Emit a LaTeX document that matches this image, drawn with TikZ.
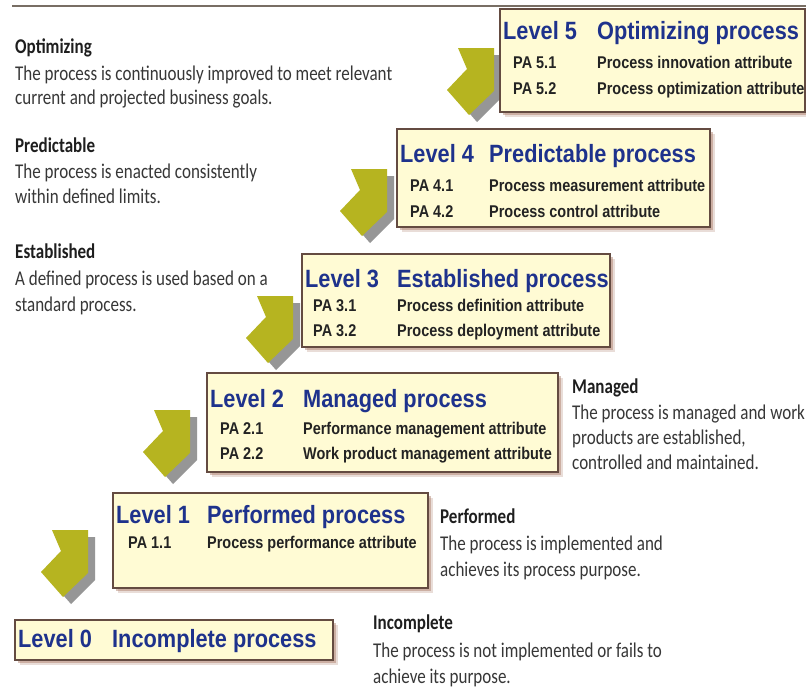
\documentclass[tikz,border=0pt]{standalone}
\usepackage{fontspec}
\setmainfont{Liberation Sans}
\newfontfamily\tfont[FakeStretch=0.87]{Liberation Sans}
\newfontfamily\pfont[FakeStretch=0.85]{Liberation Sans}
\newfontfamily\dfont[FakeStretch=0.81]{Carlito}
\definecolor{arrowyellow}{RGB}{182,180,32}
\definecolor{arrowshadow}{RGB}{150,150,150}
\definecolor{boxfill}{RGB}{255,251,212}
\definecolor{boxborder}{RGB}{100,75,65}
\definecolor{boxshadow}{RGB}{170,120,100}
\definecolor{titleblue}{RGB}{30,50,140}
\definecolor{patext}{RGB}{35,35,35}
\definecolor{desctext}{RGB}{55,55,55}
\definecolor{headtext}{RGB}{30,30,30}
\definecolor{toplinec}{RGB}{120,110,100}
\newcommand\lvlarrow[2]{%
  \fill[arrowshadow] (#1+7,#2+7) -- ++(-35,0) -- ++(9,21) -- ++(-20,21) -- ++(22,25) -- ++(24,-24) -- cycle;
  \fill[arrowyellow] (#1,#2) -- ++(-36,0) -- ++(9,21) -- ++(-20,21) -- ++(22,25) -- ++(25,-24) -- cycle;}
\newcommand\levelbox[4]{%
  \fill[boxshadow,opacity=.25] (#1+5,#2+5) rectangle (#3+5,#4+5);
  \fill[boxshadow,opacity=.45] (#1+2.5,#2+2.5) rectangle (#3+2.5,#4+2.5);
  \draw[lvbox] (#1,#2) rectangle (#3,#4);}
\begin{document}
\begin{tikzpicture}[x=1pt,y=-1pt,
  lvbox/.style={draw=boxborder,line width=1.5pt,fill=boxfill},
  ttl/.style={anchor=base west,inner sep=0pt,text=titleblue,font=\tfont\bfseries\fontsize{25}{28}\selectfont},
  pa/.style={anchor=base west,inner sep=0pt,text=patext,font=\pfont\bfseries\fontsize{17}{19}\selectfont},
  dhead/.style={anchor=base west,inner sep=0pt,text=headtext,font=\dfont\bfseries\fontsize{21}{24}\selectfont},
  dtext/.style={anchor=base west,inner sep=0pt,text=desctext,font=\dfont\fontsize{21}{24}\selectfont}]
\fill[white] (0,0) rectangle (806,688);
\useasboundingbox (0,0) rectangle (806,688);
\draw[toplinec,line width=2pt] (12,6) -- (806,6);
% arrows
\lvlarrow{88}{530}
\lvlarrow{190}{410}
\lvlarrow{293}{296}
\lvlarrow{387}{169}
\lvlarrow{494}{48}
% boxes
\levelbox{500}{9}{805}{112}
\levelbox{397}{129}{710}{227}
\levelbox{302}{254}{610}{347}
\levelbox{207}{373}{558}{472}
\levelbox{113}{493}{428}{588}
\levelbox{15}{620}{333}{660}
% level 5
\node[ttl] (l5) at (503,39) {Level 5};
\node[ttl] (n5) at (597,39) {Optimizing process};
\node[pa] (p51) at (513,68) {PA 5.1};
\node[pa] (a51) at (597,68) {Process innovation attribute};
\node[pa] (p52) at (513,94) {PA 5.2};
\node[pa] (a52) at (597,94) {Process optimization attribute};
% level 4
\node[ttl] (l4) at (400,162) {Level 4};
\node[ttl] (n4) at (489,162) {Predictable process};
\node[pa] (p41) at (410,191) {PA 4.1};
\node[pa] (a41) at (489,191) {Process measurement attribute};
\node[pa] (p42) at (410,217) {PA 4.2};
\node[pa] (a42) at (489,217) {Process control attribute};
% level 3
\node[ttl] (l3) at (305,287) {Level 3};
\node[ttl] (n3) at (397,287) {Established process};
\node[pa] (p31) at (313,311) {PA 3.1};
\node[pa] (a31) at (397,311) {Process definition attribute};
\node[pa] (p32) at (313,336) {PA 3.2};
\node[pa] (a32) at (397,336) {Process deployment attribute};
% level 2
\node[ttl] (l2) at (210,407) {Level 2};
\node[ttl] (n2) at (303,407) {Managed process};
\node[pa] (p21) at (220,434) {PA 2.1};
\node[pa] (a21) at (303,434) {Performance management attribute};
\node[pa] (p22) at (220,459) {PA 2.2};
\node[pa] (a22) at (303,459) {Work product management attribute};
% level 1
\node[ttl] (l1) at (116,523) {Level 1};
\node[ttl] (n1) at (207,523) {Performed process};
\node[pa] (p11) at (128,548) {PA 1.1};
\node[pa] (a11) at (207,548) {Process performance attribute};
% level 0
\node[ttl] (l0) at (18,647) {Level 0};
\node[ttl] (n0) at (112,647) {Incomplete process};
% descriptions left
\node[dhead] (dopt) at (15,53) {Optimizing};
\node[dtext] (dopt1) at (15,80) {The process is continuously improved to meet relevant};
\node[dtext] (dopt2) at (15,104) {current and projected business goals.};
\node[dhead] (dpre) at (15,152) {Predictable};
\node[dtext] (dpre1) at (15,178) {The process is enacted consistently};
\node[dtext] (dpre2) at (15,203) {within defined limits.};
\node[dhead] (dest) at (15,258) {Established};
\node[dtext] (dest1) at (15,285) {A defined process is used based on a};
\node[dtext] (dest2) at (15,311) {standard process.};
% descriptions right
\node[dhead] (dman) at (572,393) {Managed};
\node[dtext] (dman1) at (572,419) {The process is managed and work};
\node[dtext] (dman2) at (572,444) {products are established,};
\node[dtext] (dman3) at (572,469) {controlled and maintained.};
\node[dhead] (dper) at (440,523) {Performed};
\node[dtext] (dper1) at (440,550) {The process is implemented and};
\node[dtext] (dper2) at (440,576) {achieves its process purpose.};
\node[dhead] (dinc) at (373,629) {Incomplete};
\node[dtext] (dinc1) at (373,657) {The process is not implemented or fails to};
\node[dtext] (dinc2) at (373,683) {achieve its purpose.};
\end{tikzpicture}
\end{document}
